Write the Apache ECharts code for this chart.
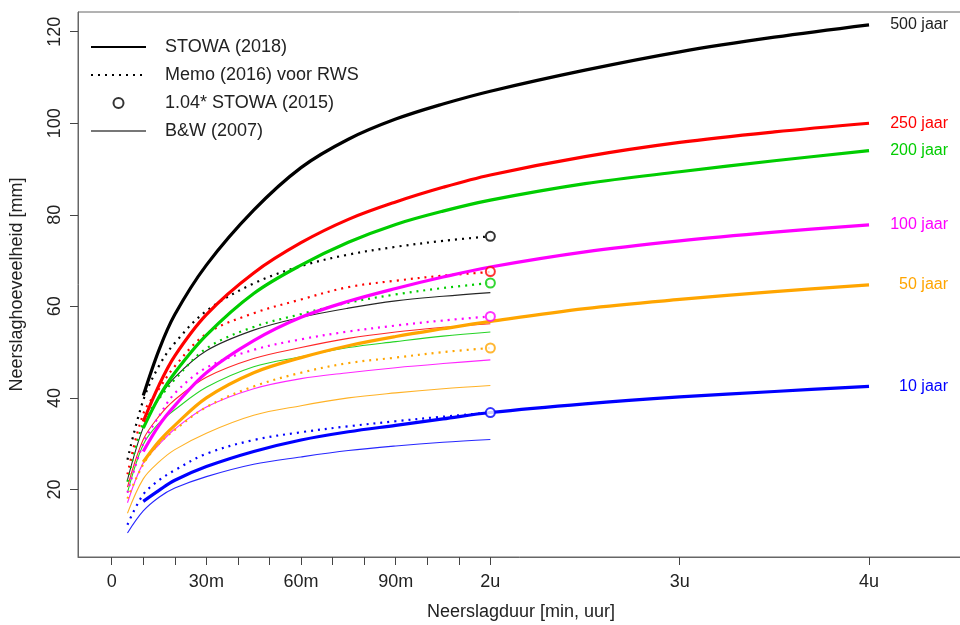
<!DOCTYPE html>
<html>
<head>
<meta charset="utf-8">
<script src="https://cdn.jsdelivr.net/npm/echarts@6/dist/echarts.min.js"></script>
<style>html,body{margin:0;padding:0;background:#fff;}#c{width:960px;height:625px;}</style>
</head>
<body>
<div id="c"></div>
<script>
// ---- data ----
const periods = ['10 jaar', '50 jaar', '100 jaar', '200 jaar', '250 jaar', '500 jaar'];
const colors = ['#0000ff', '#ffa500', '#ff00ff', '#00cd00', '#ff0000', '#000000'];
const labelColors = ['#0000ff', '#ffa500', '#ff00ff', '#00cd00', '#ff0000', '#222222'];

// durations in minutes
const durLong = [10, 15, 20, 30, 45, 60, 75, 90, 105, 120, 150, 180, 210, 240];
const durShort = [5, 10, 15, 20, 30, 45, 60, 75, 90, 105, 120];

// STOWA (2018)
const stowa2018_10  = [17.4, 19.8, 22.0, 25.0, 28.3, 30.8, 32.6, 34.0, 35.4, 36.8, 38.7, 40.2, 41.4, 42.5];
const stowa2018_50  = [26.0, 30.5, 34.0, 40.0, 45.5, 48.8, 51.4, 53.4, 55.1, 56.7, 59.5, 61.5, 63.2, 64.7];
const stowa2018_100 = [28.3, 34.0, 38.3, 45.5, 52.5, 57.6, 61.1, 63.9, 66.4, 68.6, 71.9, 74.3, 76.2, 77.8];
const stowa2018_200 = [33.4, 40.2, 45.5, 53.7, 62.8, 69.0, 74.0, 77.9, 80.8, 83.2, 86.8, 89.4, 91.8, 94.0];
const stowa2018_250 = [34.8, 42.8, 49.2, 58.2, 67.3, 73.9, 79.0, 82.8, 86.0, 88.7, 92.7, 95.8, 98.1, 100.0];
const stowa2018_500 = [40.5, 50.5, 58.2, 69.0, 81.0, 90.3, 96.5, 100.9, 104.2, 107.0, 111.6, 115.6, 118.8, 121.5];

// Memo (2016) voor RWS
const memo2016_10  = [12.3, 18.9, 22.0, 24.2, 27.8, 30.8, 32.5, 33.8, 34.9, 35.9, 36.8];
const memo2016_50  = [18.0, 25.5, 30.0, 33.0, 38.0, 42.5, 45.5, 47.6, 48.8, 50.0, 50.9];
const memo2016_100 = [19.3, 30.0, 36.0, 41.0, 46.6, 50.5, 52.8, 54.5, 55.8, 56.9, 57.8];
const memo2016_200 = [21.7, 34.6, 39.8, 44.0, 50.8, 55.5, 58.3, 60.8, 62.6, 64.0, 65.1];
const memo2016_250 = [23.3, 36.5, 42.0, 46.9, 54.0, 58.5, 61.5, 64.2, 65.6, 66.7, 67.5];
const memo2016_500 = [26.5, 39.5, 47.0, 52.0, 59.0, 65.0, 68.8, 71.3, 73.0, 74.3, 75.3];

// B&W (2007)
const bw2007_10  = [10.5, 15.3, 18.3, 20.3, 22.8, 25.5, 27.1, 28.5, 29.5, 30.3, 30.9];
const bw2007_50  = [14.8, 22.3, 26.0, 28.7, 32.3, 36.2, 38.3, 40.0, 41.1, 42.0, 42.7];
const bw2007_100 = [17.1, 25.8, 29.8, 33.2, 38.0, 42.0, 44.2, 45.5, 46.6, 47.5, 48.3];
const bw2007_200 = [19.3, 29.8, 34.5, 37.4, 42.3, 46.8, 49.0, 51.0, 52.3, 53.5, 54.4];
const bw2007_250 = [20.5, 30.9, 36.0, 39.6, 44.5, 48.6, 51.0, 53.0, 54.4, 55.4, 56.2];
const bw2007_500 = [22.1, 33.5, 40.0, 44.5, 50.3, 54.8, 57.6, 59.6, 61.2, 62.2, 63.0];

// 1.04* STOWA (2015) at 2 uur
const stowa2015Dur = 120;
const stowa2015 = [36.8, 50.9, 57.8, 65.1, 67.6, 75.3];

// axes
const xTickValues = [0, 10, 20, 30, 40, 50, 60, 70, 80, 90, 100, 110, 120, 180, 240];
const xLabelValues = [0, 30, 60, 90, 120, 180, 240];
const xLabelTexts = ['0', '30m', '60m', '90m', '2u', '3u', '4u'];
const yTickValues = [20, 40, 60, 80, 100, 120];

const legendNames = ['STOWA (2018)', 'Memo (2016) voor RWS', '1.04* STOWA (2015)', 'B&W (2007)'];

// ---- build ----
const longSets = [stowa2018_10, stowa2018_50, stowa2018_100, stowa2018_200, stowa2018_250, stowa2018_500];
const memoSets = [memo2016_10, memo2016_50, memo2016_100, memo2016_200, memo2016_250, memo2016_500];
const bwSets = [bw2007_10, bw2007_50, bw2007_100, bw2007_200, bw2007_250, bw2007_500];
const zip = (xs, ys) => xs.map((x, i) => [x, ys[i]]);
const FONT = 'Liberation Sans';
const SMOOTH = 0.35;

const series = [];
// legend-only series
series.push({ name: legendNames[0], type: 'line', data: [], symbol: 'none',
  lineStyle: { color: '#000', width: 3 }, itemStyle: { color: '#000' } });
series.push({ name: legendNames[1], type: 'line', data: [], symbol: 'none',
  lineStyle: { color: '#000', width: 2, type: [2, 5] }, itemStyle: { color: '#000' } });
series.push({ name: legendNames[3], type: 'line', data: [], symbol: 'none',
  lineStyle: { color: '#777', width: 1.3 }, itemStyle: { color: '#777' } });

bwSets.forEach((s, i) => {
  series.push({ type: 'line', data: zip(durShort, s), symbol: 'none', smooth: SMOOTH,
    silent: true, lineStyle: { color: colors[i], width: 1.1, opacity: 0.85 }, z: 2 });
});
memoSets.forEach((s, i) => {
  series.push({ type: 'line', data: zip(durShort, s), symbol: 'none', smooth: SMOOTH,
    silent: true, lineStyle: { color: colors[i], width: 2.2, type: [2, 5], cap: 'butt' }, z: 3 });
});
longSets.forEach((s, i) => {
  series.push({ type: 'line', data: zip(durLong, s), symbol: 'none', smooth: SMOOTH,
    silent: true, lineStyle: { color: colors[i], width: 3.2 }, z: 4,
    endLabel: { show: true, formatter: periods[i], color: labelColors[i], fontFamily: FONT, fontSize: 16,
      align: 'right', distance: 79 } });
});
series.push({ name: legendNames[2], type: 'scatter', symbol: 'emptyCircle', symbolSize: 9,
  itemStyle: { color: '#000', borderWidth: 2 }, z: 5,
  data: stowa2015.map((v, i) => ({ value: [stowa2015Dur, v], itemStyle: { color: colors[i], borderColor: colors[i] } })) });

const chart = echarts.init(document.getElementById('c'), null, { renderer: 'canvas' });
chart.setOption({
  animation: false,
  backgroundColor: '#fff',
  textStyle: { fontFamily: FONT },
  grid: { left: 78, top: 12, right: -4, bottom: 68, show: true, borderColor: '#666', borderWidth: 1,
    containLabel: false, outerBoundsMode: 'none' },
  legend: {
    data: [
      { name: legendNames[0], itemStyle: { opacity: 0 } },
      { name: legendNames[1], itemStyle: { opacity: 0 } },
      { name: legendNames[2] },
      { name: legendNames[3], itemStyle: { opacity: 0 } }
    ],
    orient: 'vertical', left: 85, top: 33,
    itemWidth: 55, itemHeight: 10, itemGap: 10,
    textStyle: { fontFamily: FONT, fontSize: 18, color: '#222', padding: [0, 0, 0, 14], lineHeight: 18 },
    selectedMode: false
  },
  xAxis: {
    type: 'value', min: -10.68, max: 270.1,
    name: 'Neerslagduur [min, uur]', nameLocation: 'middle', nameGap: 46,
    nameTextStyle: { fontFamily: FONT, fontSize: 18, color: '#222' },
    axisLine: { show: true, onZero: false, lineStyle: { color: '#666' } },
    axisTick: { show: true, length: 8, customValues: xTickValues, lineStyle: { color: '#444' } },
    axisLabel: { customValues: xLabelValues, margin: 16, fontSize: 18, color: '#222', fontFamily: FONT,
      formatter: v => { const k = xLabelValues.indexOf(v); return k >= 0 ? xLabelTexts[k] : ''; } },
    splitLine: { show: false }
  },
  yAxis: {
    type: 'value', min: 5.24, max: 124.3,
    name: 'Neerslaghoeveelheid [mm]', nameLocation: 'middle', nameGap: 52,
    nameTextStyle: { fontFamily: FONT, fontSize: 18, color: '#222' },
    axisLine: { show: true, onZero: false, lineStyle: { color: '#666' } },
    axisTick: { show: true, length: 8, customValues: yTickValues, lineStyle: { color: '#444' } },
    axisLabel: { customValues: yTickValues, rotate: 90, margin: 14, fontSize: 18, color: '#222', fontFamily: FONT },
    splitLine: { show: false }
  },
  series: series
});
</script>
</body>
</html>
